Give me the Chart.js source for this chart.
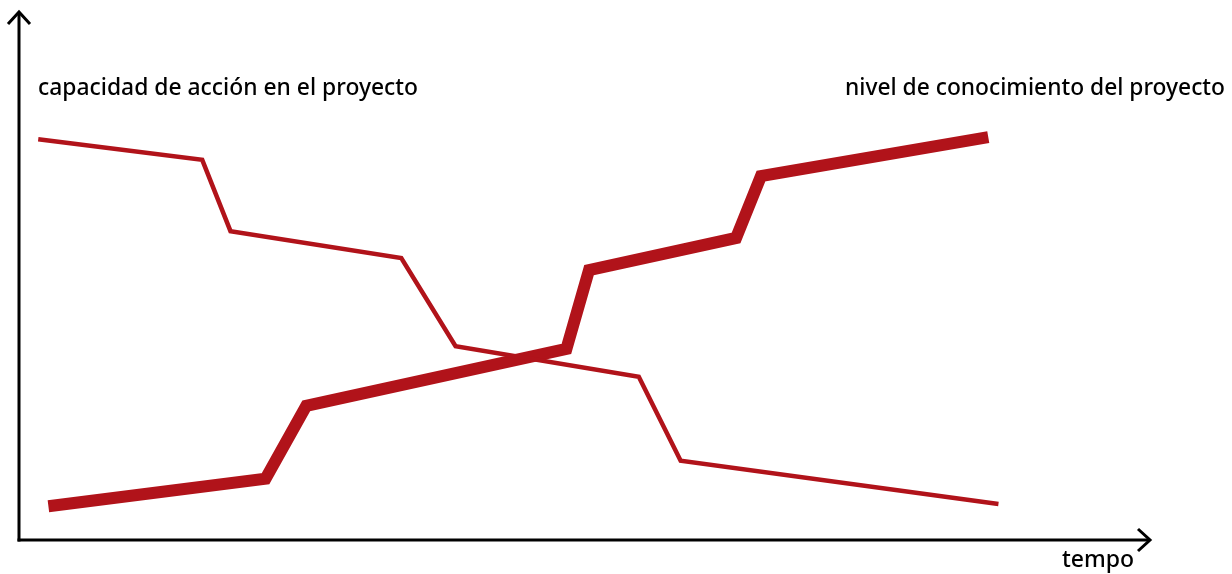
<!DOCTYPE html>
<html>
<head>
<meta charset="utf-8">
<script src="https://cdn.jsdelivr.net/npm/chart.js@4/dist/chart.umd.min.js"></script>
<style>
  html, body { margin: 0; padding: 0; background: #fff; }
  #wrap { width: 1232px; height: 574px; position: relative; }
</style>
</head>
<body>
<div id="wrap"><canvas id="chart" width="1232" height="574"></canvas></div>
<script>
// ===== Data (x = tempo, y = nivel, both 0-100) =====
const capacidadX = [1.7, 16.2, 18.7, 33.8, 38.6, 54.8, 58.5, 86.6];
const capacidadY = [75.9, 72.0, 58.5, 53.4, 36.7, 30.9, 15.0, 6.8];
const conocimientoX = [2.6, 21.8, 25.4, 48.4, 50.4, 63.4, 65.6, 85.7];
const conocimientoY = [6.4, 11.6, 25.4, 36.2, 51.1, 57.2, 68.9, 76.3];

const labelLeft = 'capacidad de acción en el proyecto';
const labelRight = 'nivel de conocimiento del proyecto';
const labelX = 'tempo';

const red = '#b1131a';

const toPoints = (xs, ys) => xs.map((x, i) => ({ x, y: ys[i] }));

// ===== Axes + labels plugin =====
const axesPlugin = {
  id: 'axes',
  afterDraw(chart) {
    const { ctx, chartArea: a } = chart;
    ctx.save();
    ctx.strokeStyle = '#000';
    ctx.lineWidth = 3;
    ctx.lineCap = 'butt';
    ctx.lineJoin = 'miter';

    // y axis
    ctx.beginPath();
    ctx.moveTo(a.left, a.bottom + 1.5);
    ctx.lineTo(a.left, a.top);
    ctx.stroke();
    ctx.beginPath();
    ctx.moveTo(a.left - 11, a.top + 12);
    ctx.lineTo(a.left, a.top);
    ctx.lineTo(a.left + 11, a.top + 12);
    ctx.stroke();

    // x axis
    ctx.beginPath();
    ctx.moveTo(a.left - 1.5, a.bottom);
    ctx.lineTo(a.right, a.bottom);
    ctx.stroke();
    ctx.beginPath();
    ctx.moveTo(a.right - 12, a.bottom - 11);
    ctx.lineTo(a.right, a.bottom);
    ctx.lineTo(a.right - 12, a.bottom + 11);
    ctx.stroke();

    // labels
    ctx.fillStyle = '#000';
    ctx.font = '500 23px "Noto Sans"';
    ctx.textBaseline = 'alphabetic';
    ctx.textAlign = 'left';
    ctx.fillText(labelLeft, 38, 95, 380);
    ctx.textAlign = 'right';
    ctx.fillText(labelRight, 1225, 95, 380);
    ctx.textAlign = 'center';
    ctx.fillText(labelX, 1098, 567);
    ctx.restore();
  }
};

new Chart(document.getElementById('chart'), {
  type: 'line',
  data: {
    datasets: [
      {
        label: labelLeft,
        data: toPoints(capacidadX, capacidadY),
        borderColor: red,
        borderWidth: 4.5,
        pointRadius: 0,
        tension: 0,
        borderJoinStyle: 'miter',
        borderCapStyle: 'butt',
        clip: false
      },
      {
        label: labelRight,
        data: toPoints(conocimientoX, conocimientoY),
        borderColor: red,
        borderWidth: 12,
        pointRadius: 0,
        tension: 0,
        borderJoinStyle: 'miter',
        borderCapStyle: 'butt',
        clip: false
      }
    ]
  },
  options: {
    responsive: false,
    animation: false,
    layout: { padding: { left: 19, right: 82, top: 12, bottom: 34 } },
    plugins: { legend: { display: false }, tooltip: { enabled: false } },
    scales: {
      x: { type: 'linear', min: 0, max: 100, display: false },
      y: { type: 'linear', min: 0, max: 100, display: false }
    }
  },
  plugins: [axesPlugin]
});
</script>
</body>
</html>
